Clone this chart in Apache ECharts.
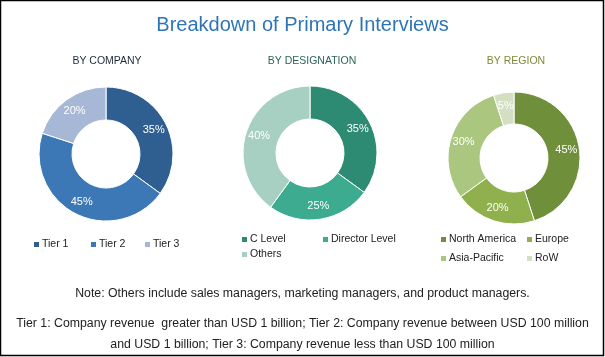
<!DOCTYPE html>
<html><head><meta charset="utf-8">
<script src="https://cdn.jsdelivr.net/npm/echarts@6/dist/echarts.min.js"></script>
<style>html,body{margin:0;padding:0;background:#fff}#c{width:605px;height:357px}</style>
</head><body><div id="c"></div>
<script>
var companyCats = ['Tier 1', 'Tier 2', 'Tier 3'];
var companyVals = [35, 45, 20];
var designationCats = ['C Level', 'Director Level', 'Others'];
var designationVals = [35, 25, 40];
var regionCats = ['North America', 'Europe', 'Asia-Pacific', 'RoW'];
var regionVals = [45, 20, 30, 5];

var companyColors = ['#2F5F91', '#3C78B6', '#A6B8D6'];
var designationColors = ['#2E8B73', '#3CAB8F', '#A8D0C2'];
var regionColors = ['#6F8F3B', '#8FB04C', '#ABC77F', '#D3DFC2'];

var FONT = '"Liberation Sans",Arial,sans-serif';

function pie(name, cats, vals, colors, center, r) {
  return {
    type: 'pie', name: name, center: center, radius: r, startAngle: 90, clockwise: true,
    avoidLabelOverlap: false,
    label: { show: true, position: 'inside', formatter: '{c}%', color: '#fff', fontSize: 11, fontFamily: FONT },
    labelLine: { show: false },
    itemStyle: { borderColor: '#fff', borderWidth: 1 },
    emphasis: { disabled: true },
    data: cats.map(function (c, i) { return { name: c, value: vals[i], itemStyle: { color: colors[i] } }; })
  };
}

var legendPos = [
  ['Tier 1', 32, 239], ['Tier 2', 89, 239], ['Tier 3', 143, 239],
  ['C Level', 240, 234], ['Director Level', 321, 234], ['Others', 240, 249],
  ['North America', 439, 234], ['Europe', 525, 234], ['Asia-Pacific', 439, 253], ['RoW', 525, 253]
];
var legends = legendPos.map(function (p) {
  return {
    data: [p[0]], left: p[1], top: p[2], itemWidth: 7, itemHeight: 7, icon: 'rect', itemGap: 4,
    textStyle: { fontSize: 10.5, color: '#222', fontFamily: FONT, padding: [0, 0, 0, -3] },
    selectedMode: false, padding: 0
  };
});

var chart = echarts.init(document.getElementById('c'));
chart.setOption({
  animation: false,
  title: [
    { text: 'Breakdown of Primary Interviews', left: 'center', top: 10, textStyle: { color: '#2E75B6', fontSize: 20, fontWeight: 'normal', fontFamily: FONT } },
    { text: 'BY COMPANY', left: 102, textAlign: 'center', top: 51, textStyle: { color: '#1F2A3A', fontSize: 10.5, fontWeight: 'normal', fontFamily: FONT } },
    { text: 'BY DESIGNATION', left: 307, textAlign: 'center', top: 51, textStyle: { color: '#2B6456', fontSize: 10.5, fontWeight: 'normal', fontFamily: FONT } },
    { text: 'BY REGION', left: 511, textAlign: 'center', top: 51, textStyle: { color: '#7B8B3B', fontSize: 10.5, fontWeight: 'normal', fontFamily: FONT } },
    { text: 'Note: Others include sales managers, marketing managers, and product managers.', left: 'center', top: 283, textStyle: { color: '#222', fontSize: 12.3, fontWeight: 'normal', fontFamily: FONT } },
    { text: 'Tier 1: Company revenue  greater than USD 1 billion; Tier 2: Company revenue between USD 100 million', left: 'center', top: 313, textStyle: { color: '#222', fontSize: 12.3, fontWeight: 'normal', fontFamily: FONT } },
    { text: 'and USD 1 billion; Tier 3: Company revenue less than USD 100 million', left: 'center', top: 334, textStyle: { color: '#222', fontSize: 12.3, fontWeight: 'normal', fontFamily: FONT } }
  ],
  legend: legends,
  graphic: [{ type: 'rect', shape: { x: 0.5, y: 0.5, width: 603, height: 355 }, style: { fill: 'none', stroke: '#000', lineWidth: 1.5 }, silent: true }],
  series: [
    pie('company', companyCats, companyVals, companyColors, [106, 154], [34, 67]),
    pie('designation', designationCats, designationVals, designationColors, [310, 153], [34, 67]),
    pie('region', regionCats, regionVals, regionColors, [514, 158], [34, 66])
  ]
});
</script></body></html>
